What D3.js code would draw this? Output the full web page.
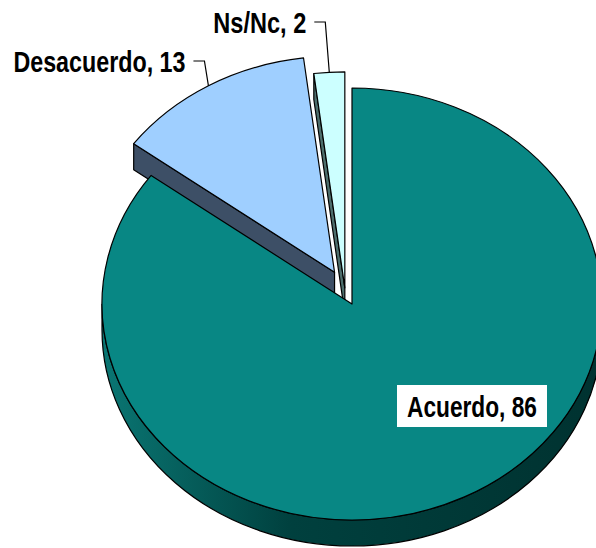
<!DOCTYPE html>
<html>
<head>
<meta charset="utf-8">
<script src="https://cdn.jsdelivr.net/npm/d3@7"></script>
<style>
    body { margin: 0; background: #fff; }
    #chart { width: 596px; height: 548px; }
    .lbl { font-family: "Liberation Sans Narrow", "Arial Narrow", "Liberation Sans", Arial, sans-serif; font-weight: bold; font-size: 29px; fill: #000; }
</style>
</head>
<body>
<div id="chart"></div>
<script>
// data
let categories = ["Acuerdo", "Desacuerdo", "Ns/Nc"];
let values = [86, 13, 2];
let topColors = ["#088784", "#9fcfff", "#ccffff"];
let sideColors = ["#004845", "#3d4f66", "#4d6e6c"];

class pie3dVis {

    constructor(parentElement, categories, values) {
        this.parentElement = parentElement;
        this.categories = categories;
        this.values = values;
        this.initVis();
    }

    initVis() {
        let vis = this;
        vis.width = 596;
        vis.height = 548;

        vis.cx = 352;
        vis.cy = 304;
        vis.rx = 250;
        vis.ry = 216;
        vis.depth = 26;

        vis.svg = d3.select('#' + vis.parentElement).append("svg")
            .attr("width", vis.width)
            .attr("height", vis.height);

        // gradient for the front wall
        let grad = vis.svg.append("defs").append("linearGradient")
            .attr("id", "wallGrad")
            .attr("gradientUnits", "userSpaceOnUse")
            .attr("x1", vis.cx - vis.rx).attr("x2", vis.cx + vis.rx)
            .attr("y1", 0).attr("y2", 0);
        grad.append("stop").attr("offset", "0%").attr("stop-color", "#0a7673");
        grad.append("stop").attr("offset", "38%").attr("stop-color", "#00403e");
        grad.append("stop").attr("offset", "100%").attr("stop-color", "#003230");

        vis.pie = d3.pie().sort(null).value(d => d);

        // explode per slice (fraction of radius) and small horizontal nudge
        vis.explode = [0, 0.17, 0.075];
        vis.nudge = [0, 4, -6];

        vis.wrangleData();
    }

    wrangleData() {
        let vis = this;
        let arcs = vis.pie(vis.values);
        vis.slices = arcs.map((a, i) => {
            let mid = (a.startAngle + a.endAngle) / 2;
            let e = vis.explode[i];
            return {
                name: vis.categories[i],
                value: vis.values[i],
                a0: a.startAngle,
                a1: a.endAngle,
                mid: mid,
                top: topColors[i],
                side: sideColors[i],
                ox: vis.cx + e * vis.rx * Math.sin(mid) + vis.nudge[i],
                oy: vis.cy - e * vis.ry * Math.cos(mid)
            };
        });
        vis.updateVis();
    }

    pt(s, a, dy) {
        let vis = this;
        return [s.ox + vis.rx * Math.sin(a), s.oy - vis.ry * Math.cos(a) + (dy || 0)];
    }

    updateVis() {
        let vis = this;
        let rx = vis.rx, ry = vis.ry, d = vis.depth;

        // back (exploded) slices first, big slice last
        let order = [1, 2, 0];

        order.forEach(i => {
            let s = vis.slices[i];
            let g = vis.svg.append("g").attr("class", "slice");

            // radial side faces
            [[s.a0, s.a0 > Math.PI], [s.a1, s.a1 > 0 && s.a1 < Math.PI]].forEach(([a, show]) => {
                if (!show) return;
                let p = vis.pt(s, a);
                g.append("path")
                    .attr("d", `M${s.ox},${s.oy}L${p[0]},${p[1]}L${p[0]},${p[1] + d}L${s.ox},${s.oy + d}Z`)
                    .attr("fill", s.side)
                    .attr("stroke", "#000")
                    .attr("stroke-width", 1.2)
                    .attr("stroke-linejoin", "round");
            });

            // outer wall (front half only)
            let w0 = Math.max(s.a0, Math.PI / 2), w1 = Math.min(s.a1, 3 * Math.PI / 2);
            if (w1 > w0) {
                let p0 = vis.pt(s, w0), p1 = vis.pt(s, w1);
                let large = (w1 - w0) > Math.PI ? 1 : 0;
                g.append("path")
                    .attr("d", `M${p0[0]},${p0[1]}A${rx},${ry} 0 ${large} 1 ${p1[0]},${p1[1]}` +
                        `L${p1[0]},${p1[1] + d}A${rx},${ry} 0 ${large} 0 ${p0[0]},${p0[1] + d}Z`)
                    .attr("fill", i === 0 ? "url(#wallGrad)" : s.side)
                    .attr("stroke", "#000")
                    .attr("stroke-width", 1.2);
            }

            // top face
            let t0 = vis.pt(s, s.a0), t1 = vis.pt(s, s.a1);
            let largeTop = (s.a1 - s.a0) > Math.PI ? 1 : 0;
            g.append("path")
                .attr("d", `M${s.ox},${s.oy}L${t0[0]},${t0[1]}A${rx},${ry} 0 ${largeTop} 1 ${t1[0]},${t1[1]}Z`)
                .attr("fill", s.top)
                .attr("stroke", "#000")
                .attr("stroke-width", 1.2)
                .attr("stroke-linejoin", "round");
        });

        // labels (narrow bold face: squeeze to the reference widths)
        let labelY = { "Desacuerdo": 61, "Ns/Nc": 22 };
        let labelW = { "Desacuerdo": 172, "Ns/Nc": 93 };
        vis.slices.forEach(s => {
            let txt = s.name + ", " + s.value;
            if (s.name === "Acuerdo") {
                vis.svg.append("rect")
                    .attr("x", 397).attr("y", 385)
                    .attr("width", 150).attr("height", 42)
                    .attr("fill", "#fff");
                vis.svg.append("text")
                    .attr("class", "lbl")
                    .attr("x", 407).attr("y", 417)
                    .attr("textLength", 130)
                    .attr("lengthAdjust", "spacingAndGlyphs")
                    .text(txt);
                return;
            }
            let p = vis.pt(s, s.mid);
            let ly = labelY[s.name];
            let ex = p[0] - 4;
            vis.svg.append("path")
                .attr("d", `M${p[0]},${p[1]}L${ex},${ly}L${ex - 11},${ly}`)
                .attr("fill", "none")
                .attr("stroke", "#000")
                .attr("stroke-width", 1.2);
            vis.svg.append("text")
                .attr("class", "lbl")
                .attr("x", ex - 19).attr("y", ly + 11)
                .attr("text-anchor", "end")
                .attr("textLength", labelW[s.name])
                .attr("lengthAdjust", "spacingAndGlyphs")
                .text(txt);
        });
    }
}

new pie3dVis("chart", categories, values);
</script>
</body>
</html>
